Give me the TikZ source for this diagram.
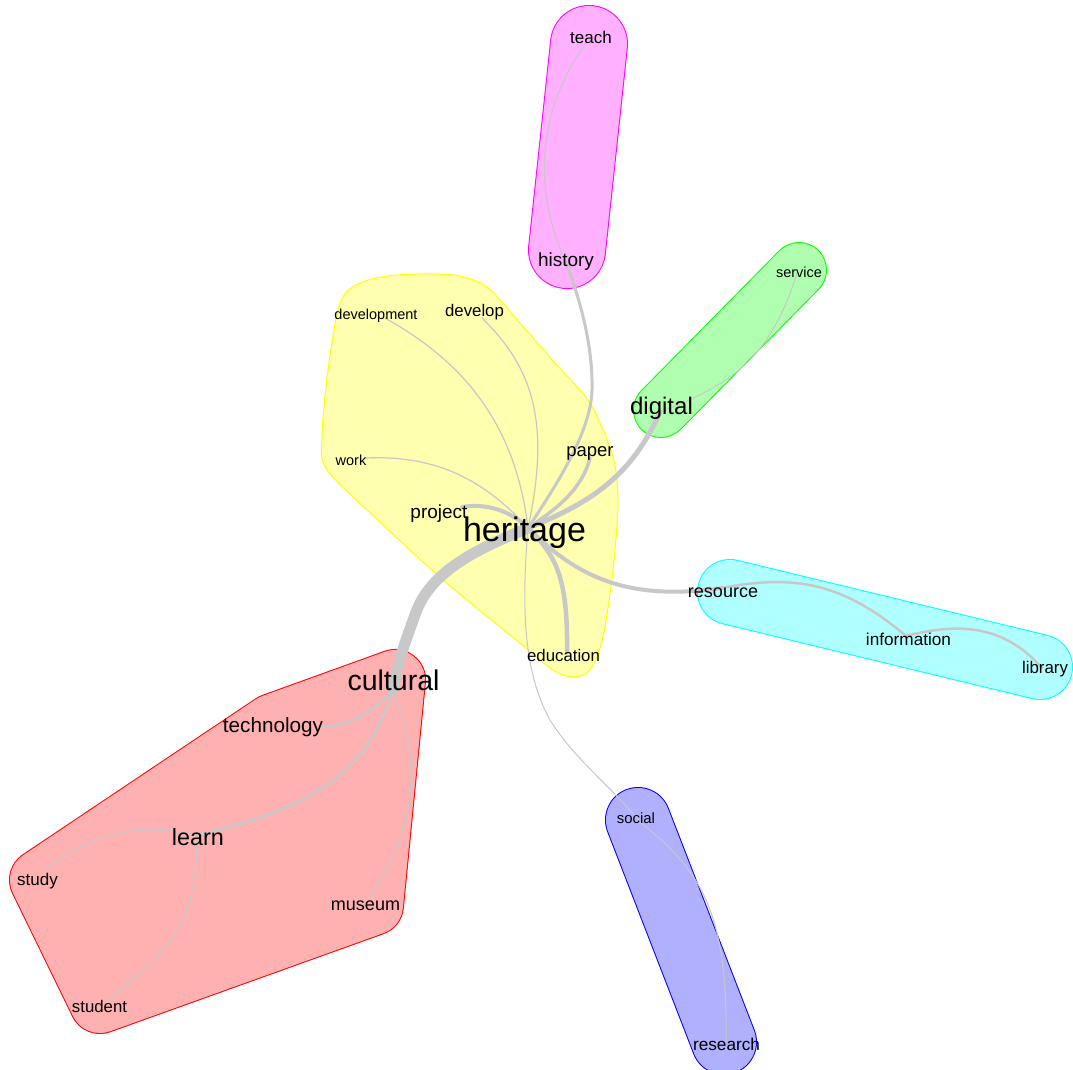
\documentclass[tikz,border=0pt]{standalone}
\usepackage{fontspec}
\setmainfont{Liberation Sans}
\definecolor{edgegray}{RGB}{200,200,200}
\definecolor{yelfill}{RGB}{255,255,176}
\definecolor{yelline}{RGB}{255,255,0}
\definecolor{redfill}{RGB}{255,176,176}
\definecolor{redline}{RGB}{255,0,0}
\definecolor{pinkfill}{RGB}{255,176,255}
\definecolor{pinkline}{RGB}{255,0,255}
\definecolor{grnfill}{RGB}{176,255,176}
\definecolor{grnline}{RGB}{0,255,0}
\definecolor{cyanfill}{RGB}{176,255,255}
\definecolor{cyanline}{RGB}{0,255,255}
\definecolor{bluefill}{RGB}{176,176,255}
\definecolor{blueline}{RGB}{0,0,255}
\begin{document}
\begin{tikzpicture}[x=1pt,y=-1pt,
  lab/.style={inner sep=0pt, anchor=base, text=black},
  edge/.style={draw=edgegray, line cap=round},
  hull/.style={line width=1pt}]
\fill[white] (0,0) rectangle (1073,1069);
\useasboundingbox (0,0) rectangle (1073,1069);

% ---- group hulls ----
\filldraw[hull, fill=yelfill, draw=yelline] plot[smooth cycle, tension=0.5] coordinates {(328,370) (340,303) (360,283) (397,275) (453,275) (487,287) (520,323) (555,363) (590,403) (613,457) (618,503) (613,570) (603,637) (590,670) (573,677) (553,670) (520,643) (443,580) (380,522) (327,470) (322,437)};
\draw[line width=62pt, line join=round, draw=redline] (395,680) -- (273,724) -- (40,880) -- (100,1003) -- (373,905) -- cycle;
\draw[line width=60pt, line join=round, draw=redfill] (395,680) -- (273,724) -- (40,880) -- (100,1003) -- (373,905) -- cycle;
\fill[redfill] (395,680) -- (273,724) -- (40,880) -- (100,1003) -- (373,905) -- cycle;
\draw[line width=78pt, line cap=round, draw=pinkline] (589,44) -- (567,250);
\draw[line width=76pt, line cap=round, draw=pinkfill] (589,44) -- (567,250);
\draw[line width=56pt, line cap=round, draw=grnline] (661,410) -- (799,270);
\draw[line width=54pt, line cap=round, draw=grnfill] (661,410) -- (799,270);
\draw[line width=66pt, line cap=round, draw=cyanline] (730,592) -- (1040,667);
\draw[line width=64pt, line cap=round, draw=cyanfill] (730,592) -- (1040,667);
\draw[line width=66pt, line cap=round, draw=blueline] (638,820) -- (724,1042);
\draw[line width=64pt, line cap=round, draw=bluefill] (638,820) -- (724,1042);

% ---- edge end points (vertex hubs) ----
\coordinate (Hh) at (528,528);
\coordinate (Cu) at (393,690);
\coordinate (Di) at (660,412);
\coordinate (Pa) at (590,458);
\coordinate (Hi) at (566,262);
\coordinate (Te) at (588,40);
\coordinate (Dv) at (482,318);
\coordinate (Dm) at (385,318);
\coordinate (Wo) at (365,458);
\coordinate (Pr) at (462,507);
\coordinate (Ed) at (567,652);
\coordinate (Re) at (722,588);
\coordinate (In) at (906,636);
\coordinate (Li) at (1042,668);
\coordinate (So) at (640,822);
\coordinate (Rs) at (726,1042);
\coordinate (Se) at (797,273);
\coordinate (Tc) at (320,727);
\coordinate (Le) at (197,835);
\coordinate (Mu) at (370,897);
\coordinate (St) at (45,870);
\coordinate (Sd) at (105,1002);

% ---- edges ----
\draw[edge, line width=11pt] (Hh) .. controls (480,548) and (430,570) .. (415,615) .. controls (404,645) and (397,665) .. (Cu);
\draw[edge, line width=5pt] (Hh) .. controls (585,505) and (630,480) .. (Di);
\draw[edge, line width=3.5pt] (Hh) .. controls (555,510) and (582,490) .. (Pa);
\draw[edge, line width=3pt] (Hh) .. controls (560,480) and (591,430) .. (592,390) .. controls (593,345) and (580,300) .. (Hi);
\draw[edge, line width=1.2pt] (Hi) .. controls (530,185) and (540,105) .. (Te);
\draw[edge, line width=1.2pt] (Hh) .. controls (550,425) and (535,370) .. (Dv);
\draw[edge, line width=1.2pt] (Hh) .. controls (515,420) and (460,360) .. (Dm);
\draw[edge, line width=1.2pt] (Hh) .. controls (480,475) and (430,455) .. (Wo);
\draw[edge, line width=4pt] (Hh) .. controls (510,510) and (485,503) .. (Pr);
\draw[edge, line width=4.5pt] (Hh) .. controls (555,555) and (568,575) .. (Ed);
\draw[edge, line width=4pt] (Hh) .. controls (575,575) and (625,602) .. (Re);
\draw[edge, line width=2.5pt] (Re) .. controls (790,575) and (840,580) .. (In);
\draw[edge, line width=2.5pt] (In) .. controls (950,625) and (1000,620) .. (Li);
\draw[edge, line width=1pt] (Hh) .. controls (522,600) and (522,670) .. (550,720) .. controls (575,760) and (610,785) .. (So);
\draw[edge, line width=1pt] (So) .. controls (700,870) and (728,910) .. (Rs);
\draw[edge, line width=1pt] (Di) .. controls (730,385) and (770,360) .. (Se);
\draw[edge, line width=2.5pt] (Cu) .. controls (375,710) and (350,727) .. (Tc);
\draw[edge, line width=2.5pt] (Cu) .. controls (370,760) and (330,805) .. (Le);
\draw[edge, line width=1.2pt] (Cu) .. controls (420,760) and (420,820) .. (Mu);
\draw[edge, line width=1.2pt] (Le) .. controls (130,822) and (90,835) .. (St);
\draw[edge, line width=1.2pt] (Le) .. controls (196,900) and (190,940) .. (Sd);

% ---- labels ----
\node[lab, font={\fontsize{34}{34}\selectfont}] (heritage) at (524.5,541) {heritage};
\node[lab, font={\fontsize{19}{19}\selectfont}] (project) at (439,518) {project};
\node[lab, font={\fontsize{18.5}{18.5}\selectfont}] (paper) at (590,456) {paper};
\node[lab, font={\fontsize{14.5}{14.5}\selectfont}] (work) at (351,465) {work};
\node[lab, font={\fontsize{14.5}{14.5}\selectfont}] (development) at (376,319) {development};
\node[lab, font={\fontsize{16.8}{16.8}\selectfont}] (develop) at (474.5,316) {develop};
\node[lab, font={\fontsize{16.8}{16.8}\selectfont}] (education) at (563.5,661) {education};
\node[lab, font={\fontsize{24}{24}\selectfont}] (digital) at (661.5,414) {digital};
\node[lab, font={\fontsize{14.5}{14.5}\selectfont}] (service) at (799,277) {service};
\node[lab, font={\fontsize{19}{19}\selectfont}] (history) at (566,266) {history};
\node[lab, font={\fontsize{17}{17}\selectfont}] (teach) at (591,43) {teach};
\node[lab, font={\fontsize{18}{18}\selectfont}] (resource) at (723,597) {resource};
\node[lab, font={\fontsize{17.2}{17.2}\selectfont}] (information) at (908.5,645) {information};
\node[lab, font={\fontsize{16.9}{16.9}\selectfont}] (library) at (1045,673) {library};
\node[lab, font={\fontsize{14.9}{14.9}\selectfont}] (social) at (636,823) {social};
\node[lab, font={\fontsize{17.2}{17.2}\selectfont}] (research) at (726.5,1050) {research};
\node[lab, font={\fontsize{28.5}{28.5}\selectfont}] (cultural) at (393.5,690) {cultural};
\node[lab, font={\fontsize{20.7}{20.7}\selectfont}] (technology) at (273,732) {technology};
\node[lab, font={\fontsize{23.4}{23.4}\selectfont}] (learn) at (198,845) {learn};
\node[lab, font={\fontsize{17}{17}\selectfont}] (study) at (37.5,885) {study};
\node[lab, font={\fontsize{16.8}{16.8}\selectfont}] (student) at (99.5,1012) {student};
\node[lab, font={\fontsize{18}{18}\selectfont}] (museum) at (365.5,910) {museum};
\end{tikzpicture}
\end{document}
